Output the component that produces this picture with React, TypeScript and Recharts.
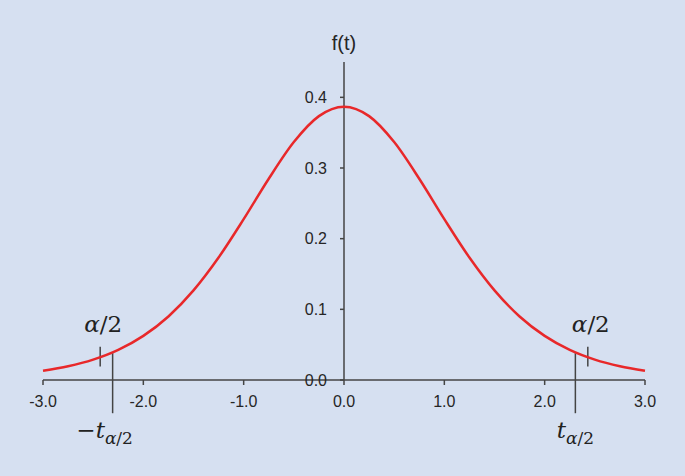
import { Line, LineChart, ReferenceLine, XAxis, YAxis } from "recharts";

// Student t density (8 d.f.) at steps of 0.25
const T_VALUES = [
  -3, -2.75, -2.5, -2.25, -2, -1.75, -1.5, -1.25, -1, -0.75, -0.5, -0.25, 0,
  0.25, 0.5, 0.75, 1, 1.25, 1.5, 1.75, 2, 2.25, 2.5, 2.75, 3,
];
const DENSITY = [
  0.013, 0.0194, 0.0288, 0.0426, 0.0624, 0.0899, 0.1268, 0.1733, 0.2276, 0.2848,
  0.3367, 0.3734, 0.3867, 0.3734, 0.3367, 0.2848, 0.2276, 0.1733, 0.1268, 0.0899,
  0.0624, 0.0426, 0.0288, 0.0194, 0.013,
];
const X_TICKS = [-3, -2, -1, 0, 1, 2, 3];
const Y_TICKS = [0, 0.1, 0.2, 0.3, 0.4];
const T_CRIT = 2.306;
const ALPHA_MARK = 2.43;

const data = T_VALUES.map((t, i) => ({ t, f: DENSITY[i] }));

const SANS = '"Liberation Sans", Arial, sans-serif';
const MATH = '"DejaVu Serif", serif';
const INK = "#262626";
const AXIS = "#444";

function AlphaLabel(props: any) {
  const vb = props.viewBox || {};
  return (
    <text x={vb.x + 3} y={vb.y - 15} textAnchor="middle" fontFamily={MATH} fontSize={23} fill="#222">
      <tspan fontStyle="italic">α</tspan>
      <tspan>/2</tspan>
    </text>
  );
}

function CritLabel(props: any) {
  const vb = props.viewBox || {};
  const neg = props.neg;
  return (
    <text
      x={vb.x + (neg ? -8 : 0)}
      y={vb.y + vb.height + 25}
      textAnchor="middle"
      fontFamily={MATH}
      fontSize={23}
      fill="#222"
    >
      {neg ? "−" : ""}
      <tspan fontStyle="italic">t</tspan>
      <tspan fontSize={17} dy={6} fontStyle="italic">α</tspan>
      <tspan fontSize={17}>/2</tspan>
    </text>
  );
}

export default function App() {
  return (
    <div style={{ position: "absolute", left: 0, top: 0, width: 685, height: 476, background: "#d6e0f1" }}>
      <LineChart width={685} height={476} data={data} margin={{ top: 62, right: 40, left: 43, bottom: 66 }}>
        <XAxis
          type="number"
          dataKey="t"
          domain={[-3, 3]}
          ticks={X_TICKS}
          tickFormatter={(v: number) => v.toFixed(1)}
          height={30}
          tickSize={5}
          tickMargin={11}
          axisLine={{ stroke: AXIS, strokeWidth: 1.5 }}
          tickLine={{ stroke: AXIS, strokeWidth: 1.5 }}
          tick={{ fill: INK, fontSize: 16, fontFamily: SANS }}
        />
        <YAxis hide type="number" domain={[0, 0.45]} />

        {/* vertical axis drawn at t = 0 */}
        <ReferenceLine
          segment={[{ x: 0, y: 0 }, { x: 0, y: 0.45 }]}
          stroke={AXIS}
          strokeWidth={1.5}
          label={{ value: "f(t)", position: "top", offset: 12, fill: INK, fontSize: 20, fontFamily: SANS }}
        />
        {Y_TICKS.map((v) => (
          <ReferenceLine
            key={v}
            segment={[{ x: -0.04, y: v }, { x: 0, y: v }]}
            stroke={AXIS}
            strokeWidth={1.5}
            label={{ value: v.toFixed(1), position: "left", offset: 13, fill: INK, fontSize: 16, fontFamily: SANS }}
          />
        ))}

        {/* critical values and alpha/2 markers */}
        <ReferenceLine
          segment={[{ x: -T_CRIT, y: -0.047 }, { x: -T_CRIT, y: 0.038 }]}
          ifOverflow="visible"
          stroke={AXIS}
          strokeWidth={1.5}
          label={(p: any) => <CritLabel {...p} neg />}
        />
        <ReferenceLine
          segment={[{ x: T_CRIT, y: -0.047 }, { x: T_CRIT, y: 0.038 }]}
          ifOverflow="visible"
          stroke={AXIS}
          strokeWidth={1.5}
          label={(p: any) => <CritLabel {...p} />}
        />
        <ReferenceLine
          segment={[{ x: -ALPHA_MARK, y: 0.019 }, { x: -ALPHA_MARK, y: 0.047 }]}
          stroke={AXIS}
          strokeWidth={1.5}
          label={(p: any) => <AlphaLabel {...p} />}
        />
        <ReferenceLine
          segment={[{ x: ALPHA_MARK, y: 0.019 }, { x: ALPHA_MARK, y: 0.047 }]}
          stroke={AXIS}
          strokeWidth={1.5}
          label={(p: any) => <AlphaLabel {...p} />}
        />

        <Line
          type="monotone"
          dataKey="f"
          stroke="#e8282a"
          strokeWidth={2.5}
          dot={false}
          isAnimationActive={false}
        />
      </LineChart>
    </div>
  );
}
